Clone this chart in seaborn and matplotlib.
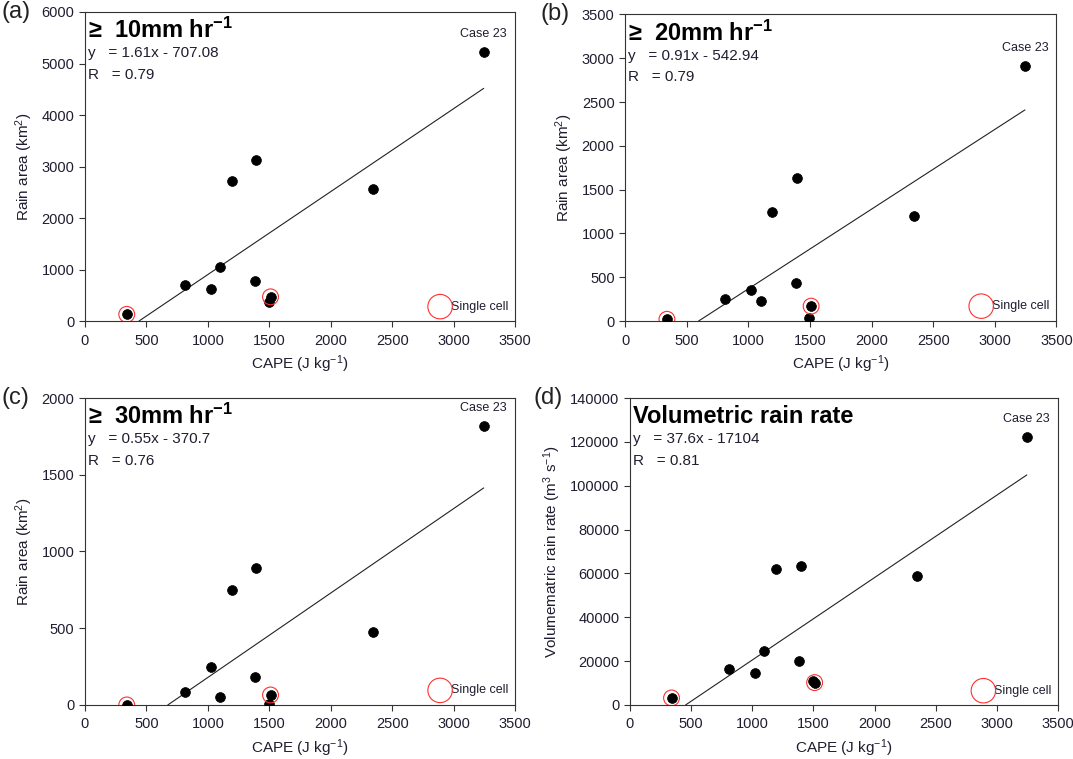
import numpy as np
import pandas as pd
import matplotlib
matplotlib.use("Agg")
import matplotlib.pyplot as plt
import seaborn as sns

sns.set_style("ticks")
plt.rcParams['font.family'] = ['Liberation Sans', 'DejaVu Sans']
plt.rcParams['mathtext.fontset'] = 'custom'
plt.rcParams['mathtext.rm'] = 'Liberation Sans'
plt.rcParams['mathtext.it'] = 'Liberation Sans:italic'
plt.rcParams['mathtext.bf'] = 'Liberation Sans:bold'

# CAPE values (J kg-1) for the 11 cases
cape = [340, 810, 1025, 1100, 1195, 1385, 1395, 1495, 1510, 2345, 3245]
single_cell = [True, False, False, False, False, False, False, False, True, False, False]

area10 = [130, 700, 620, 1050, 2720, 780, 3120, 370, 470, 2570, 5230]
area20 = [20, 250, 360, 230, 1250, 430, 1630, 40, 170, 1200, 2910]
area30 = [0, 85, 250, 55, 750, 180, 895, 5, 65, 475, 1820]
volrate = [3200, 16200, 14800, 24500, 62200, 20200, 63500, 10800, 10200, 59000, 122300]

slopes = [1.61, 0.91, 0.55, 37.6]
intercepts = [-707.08, -542.94, -370.7, -17104]
eq_texts = ["y   = 1.61x - 707.08", "y   = 0.91x - 542.94", "y   = 0.55x - 370.7", "y   = 37.6x - 17104"]
r_texts = ["R   = 0.79", "R   = 0.79", "R   = 0.76", "R   = 0.81"]
titles = ["\u2265  10mm hr$\\mathbf{^{-1}}$", "\u2265  20mm hr$\\mathbf{^{-1}}$",
          "\u2265  30mm hr$\\mathbf{^{-1}}$", "Volumetric rain rate"]
panel_labels = ["(a)", "(b)", "(c)", "(d)"]
ylabels = [r"Rain area (km$^2$)", r"Rain area (km$^2$)", r"Rain area (km$^2$)",
           r"Volumematric rain rate (m$^3$ s$^{-1}$)"]
ymaxes = [6000, 3500, 2000, 140000]
ysteps = [1000, 500, 500, 20000]
legend_y = [280, 170, 95, 6500]

series = [area10, area20, area30, volrate]

fig = plt.figure(figsize=(10.73, 7.59), dpi=100)
positions = [
    [0.0792, 0.5770, 0.4008, 0.4072],
    [0.5825, 0.5770, 0.4020, 0.4040],
    [0.0792, 0.0712, 0.4008, 0.4044],
    [0.5871, 0.0712, 0.3989, 0.4044],
]
tcol = '#1e1e30'
for i in range(4):
    ax = fig.add_axes(positions[i])
    df = pd.DataFrame({"cape": cape, "val": series[i], "single": single_cell})
    sns.scatterplot(data=df, x="cape", y="val", ax=ax, color="black", s=50,
                    edgecolor="black", linewidth=0.5, zorder=3, legend=False)
    sc = df[df["single"]]
    sns.scatterplot(data=sc, x="cape", y="val", ax=ax, s=130, facecolor="none",
                    edgecolor="#ff3030", linewidth=0.8, zorder=4, legend=False)
    # regression line from the stated equation
    x0 = -intercepts[i] / slopes[i]
    x1 = max(cape)
    xl = np.array([x0, x1])
    ax.plot(xl, slopes[i] * xl + intercepts[i], color="#222222", lw=0.8, zorder=2)
    # single-cell key
    sns.scatterplot(x=[2890], y=[legend_y[i]], ax=ax, s=310, facecolor="none",
                    edgecolor="#ff3030", linewidth=0.8, zorder=4, legend=False)
    ax.text(2975, legend_y[i], "Single cell", fontsize=9, va="center", ha="left", color=tcol)
    # case 23 label
    imax = int(np.argmax(cape))
    ax.annotate("Case 23", (cape[imax], series[i][imax]), xytext=(0, 13),
                textcoords="offset points", fontsize=9, ha="center", va="center", color=tcol)
    ax.set_xlim(0, 3500)
    ax.set_ylim(0, ymaxes[i])
    ax.set_xticks(np.arange(0, 3501, 500))
    ax.set_yticks(np.arange(0, ymaxes[i] + 1, ysteps[i]))
    ax.tick_params(direction="out", length=4, width=0.8, labelsize=10.5, colors="#333333",
                   labelcolor=tcol)
    ax.tick_params(axis="x", pad=5)
    for sp in ax.spines.values():
        sp.set_linewidth(0.8)
        sp.set_color("#333333")
    ax.set_xlabel(r"CAPE (J kg$^{-1}$)", fontsize=11, color=tcol, labelpad=4)
    ax.set_ylabel(ylabels[i], fontsize=11, color=tcol, labelpad=5)
    ax.text(0.008, 0.94, titles[i], transform=ax.transAxes, fontsize=17, fontweight="bold",
            va="center", ha="left", color="black")
    ax.text(0.008, 0.866, eq_texts[i], transform=ax.transAxes, fontsize=11, va="center", ha="left", color=tcol)
    ax.text(0.008, 0.795, r_texts[i], transform=ax.transAxes, fontsize=11, va="center", ha="left", color=tcol)
    ax.text(-0.195 if i != 3 else -0.225, 1.0, panel_labels[i], transform=ax.transAxes,
            fontsize=17, va="center", ha="left", color="#222222")

fig.savefig("out.png", dpi=100)
